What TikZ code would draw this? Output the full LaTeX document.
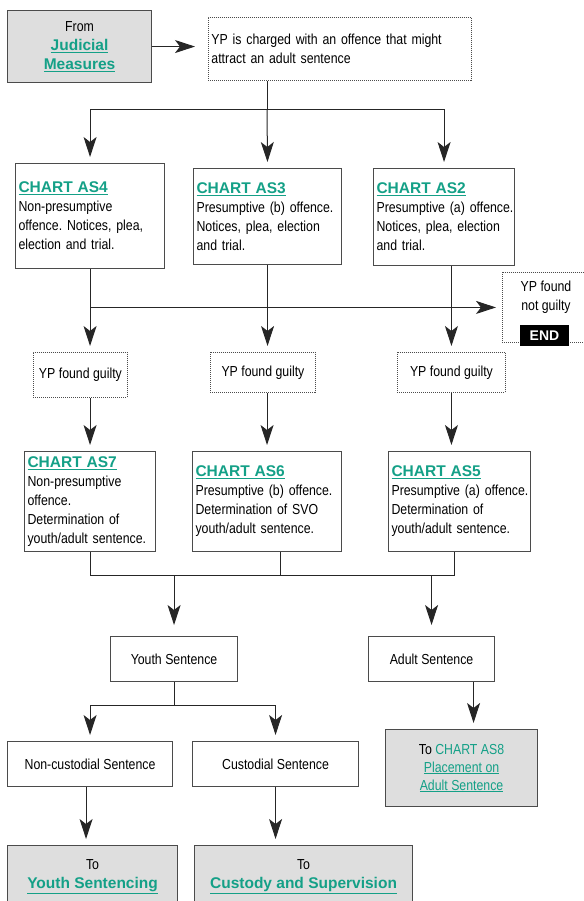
\documentclass[tikz,border=0pt]{standalone}
\usepackage{fontspec}
\setmainfont{Liberation Sans}[FakeStretch=0.85]
\newfontfamily\linkfont{Liberation Sans}
\usepackage{tikz}
\usetikzlibrary{arrows.meta}
\frenchspacing
\hyphenpenalty=10000
\definecolor{chartteal}{RGB}{20,160,135}
\definecolor{boxgrey}{RGB}{222,222,222}
\definecolor{edgegrey}{RGB}{75,75,75}
\newcommand{\chartlink}[1]{{\linkfont\bfseries\fontsize{15.5}{19}\selectfont\color{chartteal}\underline{#1}}}
\newcommand{\plainlink}[1]{{\color{chartteal}\underline{#1}}}
\tikzset{
  box/.style={draw=edgegrey, line width=1.1pt, anchor=north west, inner xsep=3pt, inner ysep=3pt,
    font=\fontsize{14.5}{19}\selectfont},
  plainbox/.style={box, align=center},
  greybox/.style={box, fill=boxgrey, align=center},
  chartbox/.style={box, align=left, text width=#1},
  dotbox/.style={box, draw=black!70, line width=0.9pt, dash pattern=on 1pt off 1pt, align=center},
  endbox/.style={fill=black, text=white, font=\linkfont\bfseries\fontsize{14}{16}\selectfont,
    minimum width=49, minimum height=21, inner sep=0pt},
  line/.style={draw=black!85, line width=1pt},
  arr/.style={line, -{Stealth[length=20pt,width=13pt,inset=5pt]}, shorten >=6pt}
}

\begin{document}
\begin{tikzpicture}[x=1pt,y=-1pt]
    \useasboundingbox (0,0) rectangle (583,901);

    \node[greybox, minimum width=144, minimum height=72] (from) at (7,10) {From\\ \chartlink{Judicial}\\ \chartlink{Measures}};
    \node[dotbox, text width=257, minimum height=63, align=left] (charged) at (208,17) {YP is charged with an offence that might\\attract an adult sentence};

    \node[chartbox=143, minimum height=105] (as4) at (15,163) {\chartlink{CHART AS4}\\Non-presumptive\\\mbox{offence. Notices, plea,}\\election and trial.};
    \node[chartbox=142, minimum height=96] (as3) at (193,168) {\chartlink{CHART AS3}\\\mbox{Presumptive (b) offence.}\\Notices, plea, election\\and trial.};
    \node[chartbox=135, minimum height=97] (as2) at (373,168) {\chartlink{CHART AS2}\\\mbox{Presumptive (a) offence.}\\Notices, plea, election\\and trial.};

    \node[dotbox, minimum width=90, minimum height=70] (ng) at (502,272) {};
    \node[align=center, font=\fontsize{14.5}{19}\selectfont] (ngtext) at (546,297) {YP found\\not guilty};
    \node[endbox] (end) at (544.5,335.5) {END};

    \node[dotbox, minimum width=94, minimum height=45] (g1) at (33,352) {YP found guilty};
    \node[dotbox, minimum width=105, minimum height=40] (g2) at (210,352) {YP found guilty};
    \node[dotbox, minimum width=108, minimum height=40] (g3) at (397,352) {YP found guilty};

    \node[chartbox=125, minimum height=100] (as7) at (24,451) {\chartlink{CHART AS7}\\Non-presumptive\\offence.\\Determination of\\\mbox{youth/adult sentence.}};
    \node[chartbox=143, minimum height=100] (as6) at (192,451) {\chartlink{CHART AS6}\\\mbox{Presumptive (b) offence.}\\Determination of SVO\\youth/adult sentence.};
    \node[chartbox=136, minimum height=100] (as5) at (388,451) {\chartlink{CHART AS5}\\\mbox{Presumptive (a) offence.}\\Determination of\\youth/adult sentence.};

    \node[plainbox, minimum width=127, minimum height=45] (youth) at (110,636) {Youth Sentence};
    \node[plainbox, minimum width=126, minimum height=45] (adult) at (368,636) {Adult Sentence};
    \node[plainbox, minimum width=165, minimum height=45] (noncust) at (7,741) {Non-custodial Sentence};
    \node[plainbox, minimum width=166, minimum height=45] (cust) at (192,741) {Custodial Sentence};
    \node[greybox, minimum width=152, minimum height=77, font=\fontsize{14.5}{18}\selectfont] (as8) at (385,729) {To {\color{chartteal}CHART AS8}\\ \plainlink{Placement on}\\ \plainlink{Adult Sentence}};
    \node[greybox, minimum width=170, minimum height=62] (ysent) at (7,845) {To\\ \chartlink{Youth Sentencing}};
    \node[greybox, minimum width=218, minimum height=62] (custsup) at (194,845) {To\\ \chartlink{Custody and Supervision}};

    \coordinate (fork) at (267,110);
    \coordinate (merge) at (454,575);

    \draw[arr, shorten >=13pt] (from.east) -- (charged.west |- from.east);
    \draw[line] (charged.south -| fork) -- (fork);
    \draw[arr] (fork) -- (as3.north);
    \draw[arr] (fork) -| (as4.north);
    \draw[arr] (fork) -| (as2.north);

    \draw[arr] (as4.south) -- (as4.south |- g1.north);
    \draw[arr] (as3.south) -- (as3.south |- g2.north);
    \draw[arr] (g3.north |- as2.south) -- (g3.north);
    \draw[arr] (as4.south |- ng.west) -- (ng.west);

    \draw[arr] (g1.south -| as7.north) -- (as7.north);
    \draw[arr] (as6.north |- g2.south) -- (as6.north);
    \draw[arr] (g3.south) -- (g3.south |- as5.north);

    \draw[line] (as7.south) |- (merge) -- (merge |- as5.south);
    \draw[line] ([xshift=13pt]as6.south) -- ([xshift=13pt]as6.south |- merge);
    \draw[arr, shorten >=11pt] (youth.north |- merge) -- (youth.north);
    \draw[arr, shorten >=11pt] (adult.north |- merge) -- (adult.north);

    \draw[line] (youth.south) -- ++(0,23) coordinate (ysplit);
    \draw[arr] (ysplit) -| (noncust.north);
    \draw[arr] (ysplit) -| (cust.north);
    \draw[arr] ([xshift=12pt]as8.north |- adult.south) -- ([xshift=12pt]as8.north);
    \draw[arr] ([xshift=-4pt]noncust.south) -- ([xshift=-4pt]noncust.south |- ysent.north);
    \draw[arr] (cust.south) -- (cust.south |- custsup.north);
\end{tikzpicture}
\end{document}
